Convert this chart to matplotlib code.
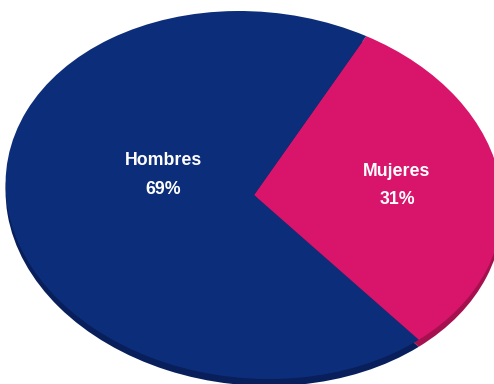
import matplotlib
matplotlib.use("Agg")
import matplotlib.pyplot as plt
from matplotlib.transforms import Affine2D

categories = ["Mujeres", "Hombres"]
values = [31, 69]
pct_labels = ["31%", "69%"]

top_colors = ["#D8146B", "#0C2E7A"]
side_colors = ["#A5104F", "#081F5C"]

W, H = 494, 384
fig = plt.figure(figsize=(W / 100, H / 100), dpi=100)
ax = fig.add_axes([0, 0, 1, 1])

# projection of the unit pie onto the tilted 3D face (pixel space)
cx, cy = 254, 195
ex = (248, 0)        # image of unit x
ey = (-14.9, -184)   # image of unit y
depth = 7
start = -51.9


def face_transform(dy=0):
    return Affine2D.from_values(ex[0], ex[1], ey[0], ey[1], cx, cy + dy) + ax.transData


side, _ = ax.pie(values, colors=side_colors, startangle=start, counterclock=True,
                 center=(0, 0), radius=1, wedgeprops=dict(linewidth=0))
for w in side:
    w.set_transform(face_transform(depth))
    w.set_zorder(1)

top, _ = ax.pie(values, colors=top_colors, startangle=start, counterclock=True,
                center=(0, 0), radius=1, wedgeprops=dict(linewidth=0))
for w in top:
    w.set_transform(face_transform(0))
    w.set_zorder(2)

ax.set_xlim(0, W)
ax.set_ylim(H, 0)
ax.set_aspect("auto")
ax.axis("off")

label_pos = {"Mujeres": (397, 176, 204), "Hombres": (163, 165.3, 194)}
for cat, pct in zip(categories, pct_labels):
    x, y1, y2 = label_pos[cat]
    ax.text(x, y1, cat, color="white", fontsize=12.8, fontweight="bold",
            family="Liberation Sans", ha="center", va="baseline", zorder=5)
    ax.text(x, y2, pct, color="white", fontsize=12.8, fontweight="bold",
            family="Liberation Sans", ha="center", va="baseline", zorder=5)

fig.savefig("out.png", dpi=100)
